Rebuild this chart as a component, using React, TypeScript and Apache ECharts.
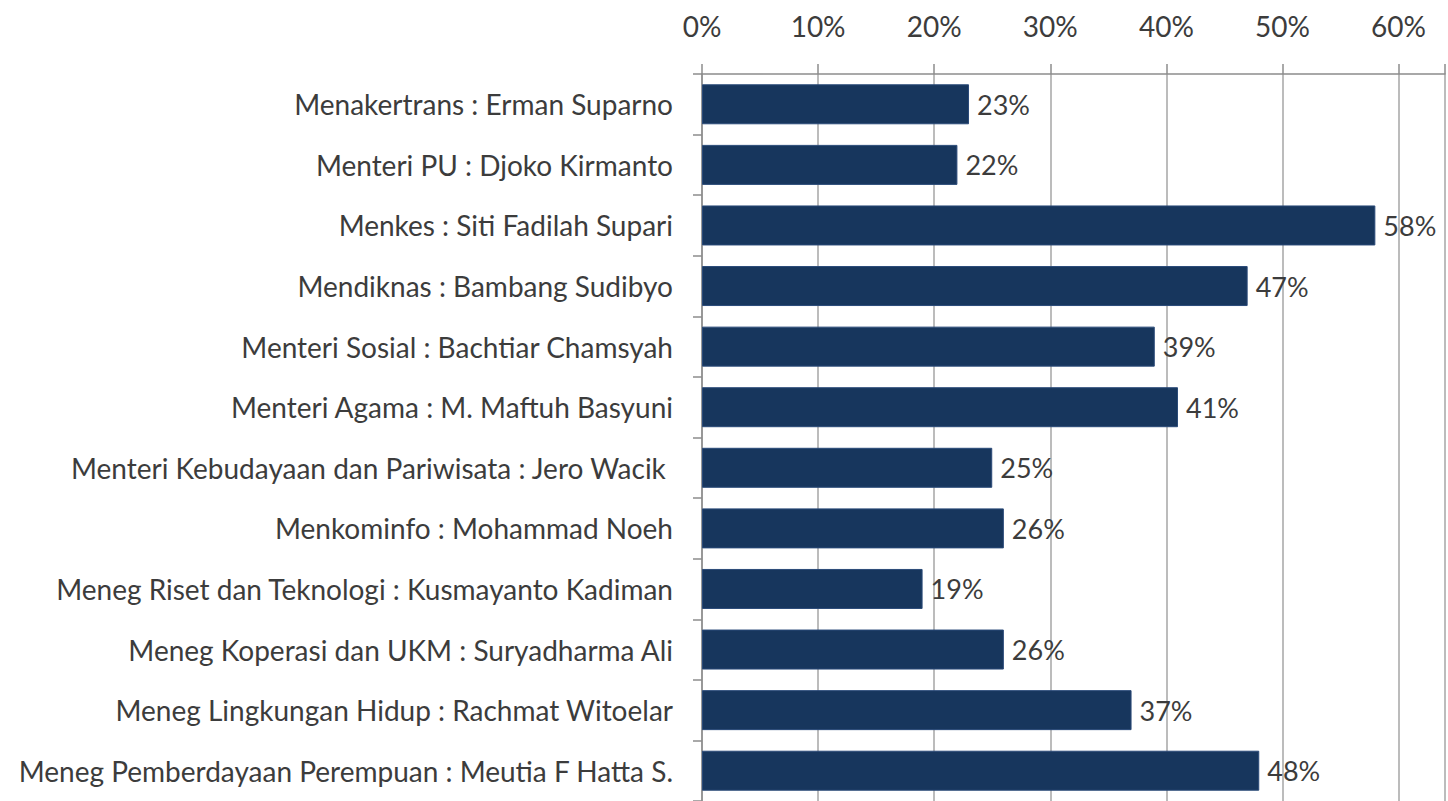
import React, { useEffect, useRef } from "react";
import * as echarts from "echarts";

const categories = [
  "Menakertrans : Erman Suparno",
  "Menteri PU : Djoko Kirmanto",
  "Menkes : Siti Fadilah Supari",
  "Mendiknas : Bambang Sudibyo",
  "Menteri Sosial : Bachtiar Chamsyah",
  "Menteri Agama : M. Maftuh Basyuni",
  "Menteri Kebudayaan dan Pariwisata : Jero Wacik ",
  "Menkominfo : Mohammad Noeh",
  "Meneg Riset dan Teknologi : Kusmayanto Kadiman",
  "Meneg Koperasi dan UKM : Suryadharma Ali",
  "Meneg Lingkungan Hidup : Rachmat Witoelar",
  "Meneg Pemberdayaan Perempuan : Meutia F Hatta S.",
];
const values = [0.23, 0.22, 0.58, 0.47, 0.39, 0.41, 0.25, 0.26, 0.19, 0.26, 0.37, 0.48];

const FONT = "Lato";
const TEXT = "#3c3c3c";

export default function App() {
  const ref = useRef<HTMLDivElement>(null);
  useEffect(() => {
    const chart = echarts.init(ref.current!, null, { renderer: "svg" });
    chart.setOption({
      animation: false,
      grid: { left: 702, top: 74, right: 0, height: 730, containLabel: false },
      xAxis: {
        type: "value",
        position: "top",
        min: 0,
        max: 0.64,
        interval: 0.1,
        axisLine: { show: true, lineStyle: { color: "#8c8c8c", width: 1.5 } },
        axisTick: { show: true, length: 10, lineStyle: { color: "#8c8c8c", width: 1.5 } },
        splitLine: { show: true, lineStyle: { color: "#a6a6a6", width: 1.5 } },
        axisLabel: {
          margin: 34,
          fontFamily: FONT,
          fontSize: 28,
          color: TEXT,
          formatter: (v: number) => {
            const p = Math.round(v * 100);
            return p % 10 === 0 ? p + "%" : "";
          },
        },
      },
      yAxis: {
        type: "category",
        inverse: true,
        data: categories,
        axisLine: { show: true, lineStyle: { color: "#8c8c8c", width: 1.5 } },
        axisTick: { show: true, length: 9, lineStyle: { color: "#8c8c8c", width: 1.5 } },
        axisLabel: {
          margin: 29,
          fontFamily: FONT,
          fontSize: 28,
          color: TEXT,
        },
      },
      series: [
        {
          type: "bar",
          data: values,
          barWidth: 40,
          itemStyle: { color: "#17365d", borderColor: "#2a4a78", borderWidth: 1 },
          label: {
            show: true,
            position: "right",
            distance: 8,
            fontFamily: FONT,
            fontSize: 27,
            color: TEXT,
            formatter: (p: any) => Math.round(p.value * 100) + "%",
          },
        },
      ],
    });
    return () => chart.dispose();
  }, []);
  return <div ref={ref} style={{ width: 1448, height: 801, position: "absolute", left: 0, top: 0, background: "#fff" }} />;
}
